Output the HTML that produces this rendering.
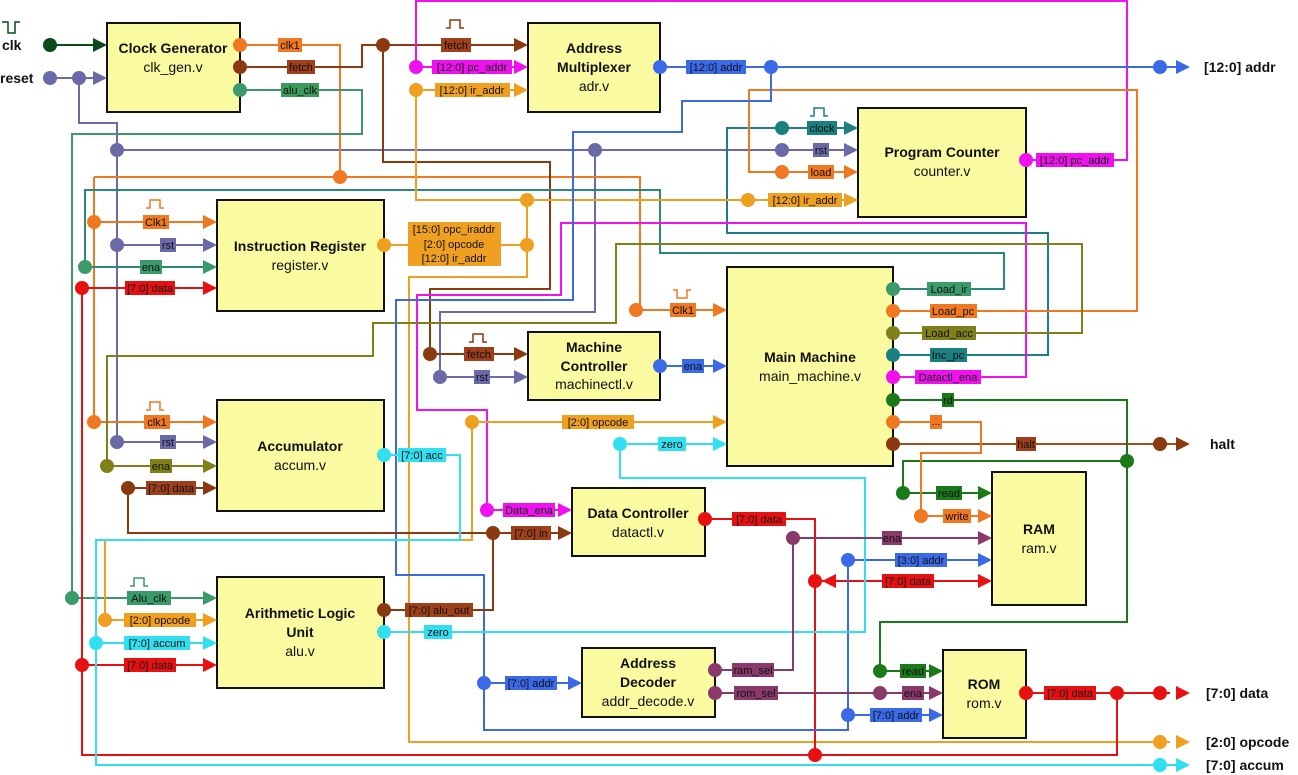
<!DOCTYPE html>
<html><head><meta charset="utf-8"><style>
html,body{margin:0;padding:0;background:#fff;}
svg{display:block;font-family:"Liberation Sans",sans-serif;}
.w{fill:none;stroke-width:2;}
.bx{fill:#fafaa0;stroke:#111;stroke-width:2;}
.t{font-size:14px;font-weight:bold;text-anchor:middle;fill:#111;}
.s{font-size:14px;text-anchor:middle;fill:#111;}
.l{font-size:11px;text-anchor:middle;fill:#111;}
.o{font-size:14px;font-weight:bold;fill:#111;}
</style></head><body>
<svg width="1298" height="775" viewBox="0 0 1298 775">
<g class="w">
<path d="M50 45H100" stroke="#0a4a1a"/>
<path d="M50 78H100 M79 78V123H117V442" stroke="#6a6aa8"/>
<path d="M117 150H850 M117 245H210 M117 442H210" stroke="#6a6aa8"/>
<path d="M595 150V312H440V377H520" stroke="#6a6aa8"/>
<path d="M240 45H340V177 M94 177H640V310H720 M94 177V422H210 M94 222H210" stroke="#f07820"/>
<path d="M240 67H362V45H520 M383 45V162H550V289H430V354H520" stroke="#8b3a0f"/>
<path d="M240 90H362V134H72V598H210" stroke="#3a9a6a"/>
<path d="M85 267V190H660V253H1004V289H893 M85 267H210" stroke="#2a8a7a"/>
<path d="M850 128H727V233H1048V355H893" stroke="#1a8080"/>
<path d="M1026 160H1127V1H416V67H520" stroke="#f010f0"/>
<path d="M893 377H1026V223H561V295H417V410H487V510H565" stroke="#f010f0"/>
<path d="M416 90H520 M416 90V200H850 M384 245H527V200 M527 245V277H409V742H1170 M472 422H720 M472 422V540H105V620H210" stroke="#f0a020"/>
<path d="M893 311H1137V90H749V172H850" stroke="#f07820"/>
<path d="M893 333H1082V244H616V323H373V356H107V466H210" stroke="#808018"/>
<path d="M82 288H210 M82 288V755H1117V693 M82 665H210 M705 519H815V755 M815 581H985 M1026 693H1170" stroke="#e81010"/>
<path d="M660 67H1180 M771 67V101H682V132H573V300H396V575H484V730H848V560H985 M848 715H935 M484 683H575 M660 366H720" stroke="#3a6ae8"/>
<path d="M128 488H210 M128 488V533H565 M384 610H493V533" stroke="#8b3a0f"/>
<path d="M893 444H1180" stroke="#a0501a"/>
<path d="M384 455H460V540H96V765H1180 M96 643H210 M620 444H720 M620 444V478H865V632H384" stroke="#30e0f0"/>
<path d="M893 400H1127V622H880V671H935 M1127 461H903V493H985" stroke="#1a7a1a"/>
<path d="M893 422H981V453H921V516H985" stroke="#f07820"/>
<path d="M793 538H985 M793 538V670H715 M715 693H935" stroke="#8a3a6a"/>
</g>
<rect class="bx" x="107" y="23" width="133" height="89"/>
<text class="t" x="173" y="53">Clock Generator</text><text class="s" x="173" y="72">clk_gen.v</text>
<rect class="bx" x="528" y="23" width="132" height="89"/>
<text class="t" x="594" y="53">Address</text><text class="t" x="594" y="72">Multiplexer</text><text class="s" x="594" y="91">adr.v</text>
<rect class="bx" x="858" y="108" width="168" height="109"/>
<text class="t" x="942" y="157">Program Counter</text><text class="s" x="942" y="176">counter.v</text>
<rect class="bx" x="217" y="200" width="167" height="111"/>
<text class="t" x="300" y="251">Instruction Register</text><text class="s" x="300" y="270">register.v</text>
<rect class="bx" x="727" y="267" width="166" height="199"/>
<text class="t" x="810" y="362">Main Machine</text><text class="s" x="810" y="381">main_machine.v</text>
<rect class="bx" x="528" y="332" width="132" height="68"/>
<text class="t" x="594" y="352">Machine</text><text class="t" x="594" y="371">Controller</text><text class="s" x="594" y="389">machinectl.v</text>
<rect class="bx" x="217" y="400" width="167" height="111"/>
<text class="t" x="300" y="451">Accumulator</text><text class="s" x="300" y="470">accum.v</text>
<rect class="bx" x="572" y="488" width="133" height="68"/>
<text class="t" x="638" y="518">Data Controller</text><text class="s" x="638" y="537">datactl.v</text>
<rect class="bx" x="992" y="472" width="94" height="133"/>
<text class="t" x="1039" y="534">RAM</text><text class="s" x="1039" y="553">ram.v</text>
<rect class="bx" x="217" y="577" width="167" height="111"/>
<text class="t" x="300" y="618">Arithmetic Logic</text><text class="t" x="300" y="637">Unit</text><text class="s" x="300" y="656">alu.v</text>
<rect class="bx" x="582" y="648" width="133" height="69"/>
<text class="t" x="648" y="668">Address</text><text class="t" x="648" y="687">Decoder</text><text class="s" x="648" y="706">addr_decode.v</text>
<rect class="bx" x="943" y="650" width="83" height="88"/>
<text class="t" x="984" y="689">ROM</text><text class="s" x="984" y="708">rom.v</text>
<g>
<polygon points="93,38 107,45 93,52" fill="#0a4a1a"/>
<polygon points="93,71 107,78 93,85" fill="#6a6aa8"/>
<polygon points="514,38 528,45 514,52" fill="#8b3a0f"/>
<polygon points="514,60 528,67 514,74" fill="#f010f0"/>
<polygon points="514,83 528,90 514,97" fill="#f0a020"/>
<polygon points="844,121 858,128 844,135" fill="#1a8080"/>
<polygon points="844,143 858,150 844,157" fill="#6a6aa8"/>
<polygon points="844,165 858,172 844,179" fill="#f07820"/>
<polygon points="844,193 858,200 844,207" fill="#f0a020"/>
<polygon points="203,215 217,222 203,229" fill="#f07820"/>
<polygon points="203,238 217,245 203,252" fill="#6a6aa8"/>
<polygon points="203,260 217,267 203,274" fill="#3a9a6a"/>
<polygon points="203,281 217,288 203,295" fill="#e81010"/>
<polygon points="713,303 727,310 713,317" fill="#f07820"/>
<polygon points="514,347 528,354 514,361" fill="#8b3a0f"/>
<polygon points="514,370 528,377 514,384" fill="#6a6aa8"/>
<polygon points="713,359 727,366 713,373" fill="#3a6ae8"/>
<polygon points="713,415 727,422 713,429" fill="#f0a020"/>
<polygon points="713,437 727,444 713,451" fill="#30e0f0"/>
<polygon points="203,415 217,422 203,429" fill="#f07820"/>
<polygon points="203,435 217,442 203,449" fill="#6a6aa8"/>
<polygon points="203,459 217,466 203,473" fill="#808018"/>
<polygon points="203,481 217,488 203,495" fill="#8b3a0f"/>
<polygon points="558,503 572,510 558,517" fill="#f010f0"/>
<polygon points="558,526 572,533 558,540" fill="#8b3a0f"/>
<polygon points="203,591 217,598 203,605" fill="#3a9a6a"/>
<polygon points="203,613 217,620 203,627" fill="#f0a020"/>
<polygon points="203,636 217,643 203,650" fill="#30e0f0"/>
<polygon points="203,658 217,665 203,672" fill="#e81010"/>
<polygon points="568,676 582,683 568,690" fill="#3a6ae8"/>
<polygon points="978,486 992,493 978,500" fill="#1a7a1a"/>
<polygon points="978,509 992,516 978,523" fill="#f07820"/>
<polygon points="978,531 992,538 978,545" fill="#8a3a6a"/>
<polygon points="978,553 992,560 978,567" fill="#3a6ae8"/>
<polygon points="978,574 992,581 978,588" fill="#e81010"/>
<polygon points="836,574 822,581 836,588" fill="#e81010"/>
<polygon points="929,664 943,671 929,678" fill="#1a7a1a"/>
<polygon points="929,686 943,693 929,700" fill="#8a3a6a"/>
<polygon points="929,708 943,715 929,722" fill="#3a6ae8"/>
<polygon points="1176,60 1190,67 1176,74" fill="#3a6ae8"/>
<polygon points="1176,437 1190,444 1176,451" fill="#8b3a0f"/>
<polygon points="1176,686 1190,693 1176,700" fill="#e81010"/>
<polygon points="1176,735 1190,742 1176,749" fill="#f0a020"/>
<polygon points="1176,758 1190,765 1176,772" fill="#30e0f0"/>
</g>
<g>
<circle cx="50" cy="45" r="7" fill="#0a4a1a"/>
<circle cx="50" cy="78" r="7" fill="#6a6aa8"/><circle cx="79" cy="78" r="7" fill="#6a6aa8"/>
<circle cx="240" cy="45" r="7" fill="#f07820"/><circle cx="240" cy="67" r="7" fill="#8b3a0f"/><circle cx="240" cy="90" r="7" fill="#3a9a6a"/>
<circle cx="383" cy="45" r="7" fill="#8b3a0f"/>
<circle cx="416" cy="67" r="7" fill="#f010f0"/><circle cx="416" cy="90" r="7" fill="#f0a020"/>
<circle cx="660" cy="67" r="7" fill="#3a6ae8"/><circle cx="771" cy="67" r="7" fill="#3a6ae8"/><circle cx="1160" cy="67" r="7" fill="#3a6ae8"/>
<circle cx="117" cy="150" r="7" fill="#6a6aa8"/><circle cx="595" cy="150" r="7" fill="#6a6aa8"/><circle cx="782" cy="150" r="7" fill="#6a6aa8"/>
<circle cx="782" cy="128" r="7" fill="#1a8080"/><circle cx="782" cy="172" r="7" fill="#f07820"/>
<circle cx="748" cy="200" r="7" fill="#f0a020"/><circle cx="527" cy="200" r="7" fill="#f0a020"/><circle cx="527" cy="245" r="7" fill="#f0a020"/><circle cx="384" cy="245" r="7" fill="#f0a020"/>
<circle cx="1026" cy="160" r="7" fill="#f010f0"/>
<circle cx="340" cy="177" r="7" fill="#f07820"/>
<circle cx="94" cy="222" r="7" fill="#f07820"/><circle cx="117" cy="245" r="7" fill="#6a6aa8"/><circle cx="85" cy="267" r="7" fill="#3a9a6a"/><circle cx="82" cy="288" r="7" fill="#e81010"/>
<circle cx="636" cy="310" r="7" fill="#f07820"/>
<circle cx="893" cy="289" r="7" fill="#3a9a6a"/><circle cx="893" cy="311" r="7" fill="#f07820"/><circle cx="893" cy="333" r="7" fill="#808018"/><circle cx="893" cy="355" r="7" fill="#1a8080"/><circle cx="893" cy="377" r="7" fill="#f010f0"/><circle cx="893" cy="400" r="7" fill="#1a7a1a"/><circle cx="893" cy="422" r="7" fill="#f07820"/><circle cx="893" cy="444" r="7" fill="#8b3a0f"/>
<circle cx="430" cy="354" r="7" fill="#8b3a0f"/><circle cx="440" cy="377" r="7" fill="#6a6aa8"/><circle cx="660" cy="366" r="7" fill="#3a6ae8"/>
<circle cx="94" cy="422" r="7" fill="#f07820"/><circle cx="117" cy="442" r="7" fill="#6a6aa8"/><circle cx="107" cy="466" r="7" fill="#808018"/><circle cx="128" cy="488" r="7" fill="#8b3a0f"/>
<circle cx="472" cy="422" r="7" fill="#f0a020"/><circle cx="620" cy="444" r="7" fill="#30e0f0"/>
<circle cx="384" cy="455" r="7" fill="#30e0f0"/>
<circle cx="1160" cy="444" r="7" fill="#8b3a0f"/><circle cx="1127" cy="461" r="7" fill="#1a7a1a"/>
<circle cx="903" cy="493" r="7" fill="#1a7a1a"/><circle cx="921" cy="516" r="7" fill="#f07820"/>
<circle cx="487" cy="510" r="7" fill="#f010f0"/><circle cx="493" cy="533" r="7" fill="#8b3a0f"/>
<circle cx="705" cy="519" r="7" fill="#e81010"/><circle cx="793" cy="538" r="7" fill="#8a3a6a"/><circle cx="848" cy="560" r="7" fill="#3a6ae8"/><circle cx="815" cy="581" r="7" fill="#e81010"/>
<circle cx="72" cy="598" r="7" fill="#3a9a6a"/><circle cx="105" cy="620" r="7" fill="#f0a020"/><circle cx="96" cy="643" r="7" fill="#30e0f0"/><circle cx="82" cy="665" r="7" fill="#e81010"/>
<circle cx="384" cy="610" r="7" fill="#8b3a0f"/><circle cx="384" cy="632" r="7" fill="#30e0f0"/>
<circle cx="484" cy="683" r="7" fill="#3a6ae8"/><circle cx="715" cy="670" r="7" fill="#8a3a6a"/><circle cx="715" cy="693" r="7" fill="#8a3a6a"/>
<circle cx="880" cy="671" r="7" fill="#1a7a1a"/><circle cx="880" cy="693" r="7" fill="#8a3a6a"/><circle cx="848" cy="715" r="7" fill="#3a6ae8"/>
<circle cx="1026" cy="693" r="7" fill="#e81010"/><circle cx="1117" cy="693" r="7" fill="#e81010"/><circle cx="1160" cy="693" r="7" fill="#e81010"/>
<circle cx="1160" cy="742" r="7" fill="#f0a020"/><circle cx="815" cy="755" r="7" fill="#e81010"/><circle cx="1160" cy="765" r="7" fill="#30e0f0"/>
</g>
<g>
<rect x="278" y="38" width="24" height="14" fill="#f07820"/><text class="l" x="290" y="49">clk1</text>
<rect x="287" y="60" width="28" height="14" fill="#a0401a"/><text class="l" x="301" y="71">fetch</text>
<rect x="281" y="83" width="38" height="14" fill="#3a9a5a"/><text class="l" x="300" y="94" fill="#8f8">alu_clk</text>
<rect x="441" y="38" width="30" height="14" fill="#a0401a"/><text class="l" x="456" y="49">fetch</text>
<rect x="432" y="60" width="80" height="14" fill="#f010f0"/><text class="l" x="472" y="71">[12:0] pc_addr</text>
<rect x="435" y="83" width="75" height="14" fill="#f0a020"/><text class="l" x="472" y="94">[12:0] ir_addr</text>
<rect x="686" y="60" width="60" height="14" fill="#3a6ae8"/><text class="l" x="716" y="71">[12:0] addr</text>
<rect x="807" y="121" width="30" height="14" fill="#1a8080"/><text class="l" x="822" y="132">clock</text>
<rect x="813" y="143" width="16" height="14" fill="#6a6aa8"/><text class="l" x="821" y="154">rst</text>
<rect x="808" y="165" width="26" height="14" fill="#f07820"/><text class="l" x="821" y="176">load</text>
<rect x="768" y="193" width="74" height="14" fill="#f0a020"/><text class="l" x="805" y="204">[12:0] ir_addr</text>
<rect x="1036" y="153" width="78" height="14" fill="#f010f0"/><text class="l" x="1075" y="164">[12:0] pc_addr</text>
<rect x="143" y="215" width="26" height="14" fill="#f07820"/><text class="l" x="156" y="226">Clk1</text>
<rect x="160" y="238" width="16" height="14" fill="#6a6aa8"/><text class="l" x="168" y="249">rst</text>
<rect x="140" y="260" width="22" height="14" fill="#3a9a6a"/><text class="l" x="151" y="271">ena</text>
<rect x="125" y="281" width="50" height="14" fill="#e81010"/><text class="l" x="150" y="292">[7:0] data</text>
<rect x="408" y="222" width="93" height="44" fill="#f0a020"/>
<text class="l" x="454" y="233">[15:0] opc_iraddr</text><text class="l" x="454" y="248">[2:0] opcode</text><text class="l" x="454" y="262">[12:0] ir_addr</text>
<rect x="670" y="303" width="26" height="14" fill="#f07820"/><text class="l" x="683" y="314">Clk1</text>
<rect x="464" y="347" width="30" height="14" fill="#a0401a"/><text class="l" x="479" y="358">fetch</text>
<rect x="474" y="370" width="16" height="14" fill="#6a6aa8"/><text class="l" x="482" y="381">rst</text>
<rect x="682" y="359" width="22" height="14" fill="#3a6ae8"/><text class="l" x="693" y="370">ena</text>
<rect x="927" y="282" width="44" height="14" fill="#3a9a6a"/><text class="l" x="949" y="293">Load_ir</text>
<rect x="930" y="304" width="47" height="14" fill="#f07820"/><text class="l" x="953" y="315">Load_pc</text>
<rect x="922" y="326" width="54" height="14" fill="#808018"/><text class="l" x="949" y="337">Load_acc</text>
<rect x="930" y="348" width="37" height="14" fill="#1a8080"/><text class="l" x="948" y="359">Inc_pc</text>
<rect x="915" y="370" width="66" height="14" fill="#f010f0"/><text class="l" x="948" y="381">Datactl_ena</text>
<rect x="942" y="393" width="12" height="14" fill="#1a7a1a"/><text class="l" x="948" y="404">rd</text>
<rect x="930" y="415" width="12" height="14" fill="#f07820"/><text class="l" x="936" y="425">...</text>
<rect x="1016" y="437" width="20" height="14" fill="#a0401a"/><text class="l" x="1026" y="448">halt</text>
<rect x="562" y="415" width="72" height="14" fill="#f0a020"/><text class="l" x="598" y="426">[2:0] opcode</text>
<rect x="658" y="437" width="28" height="14" fill="#30e0f0"/><text class="l" x="672" y="448">zero</text>
<rect x="144" y="415" width="26" height="14" fill="#f07820"/><text class="l" x="157" y="426">clk1</text>
<rect x="160" y="435" width="16" height="14" fill="#6a6aa8"/><text class="l" x="168" y="446">rst</text>
<rect x="150" y="459" width="22" height="14" fill="#808018"/><text class="l" x="161" y="470" fill="#ee6">ena</text>
<rect x="146" y="481" width="50" height="14" fill="#a0401a"/><text class="l" x="171" y="492">[7:0] data</text>
<rect x="398" y="448" width="48" height="14" fill="#30e0f0"/><text class="l" x="422" y="459">[7:0] acc</text>
<rect x="503" y="503" width="52" height="14" fill="#f010f0"/><text class="l" x="529" y="514">Data_ena</text>
<rect x="511" y="526" width="40" height="14" fill="#a0401a"/><text class="l" x="531" y="537">[7:0] in</text>
<rect x="732" y="512" width="54" height="14" fill="#e81010"/><text class="l" x="759" y="523">[7:0] data</text>
<rect x="882" y="531" width="20" height="14" fill="#8a3a6a"/><text class="l" x="892" y="542">ena</text>
<rect x="895" y="553" width="52" height="14" fill="#3a6ae8"/><text class="l" x="921" y="564">[3:0] addr</text>
<rect x="882" y="574" width="52" height="14" fill="#e81010"/><text class="l" x="908" y="585">[7:0] data</text>
<rect x="936" y="486" width="26" height="14" fill="#1a7a1a"/><text class="l" x="949" y="497">read</text>
<rect x="943" y="509" width="28" height="14" fill="#f07820"/><text class="l" x="957" y="520">write</text>
<rect x="127" y="591" width="44" height="14" fill="#3a9a6a"/><text class="l" x="149" y="602">Alu_clk</text>
<rect x="124" y="613" width="72" height="14" fill="#f0a020"/><text class="l" x="160" y="624">[2:0] opcode</text>
<rect x="124" y="636" width="66" height="14" fill="#30e0f0"/><text class="l" x="157" y="647">[7:0] accum</text>
<rect x="124" y="658" width="52" height="14" fill="#e81010"/><text class="l" x="150" y="669">[7:0] data</text>
<rect x="405" y="603" width="68" height="14" fill="#a0401a"/><text class="l" x="439" y="614">[7:0] alu_out</text>
<rect x="424" y="625" width="28" height="14" fill="#30e0f0"/><text class="l" x="438" y="636">zero</text>
<rect x="505" y="676" width="52" height="14" fill="#3a6ae8"/><text class="l" x="531" y="687">[7:0] addr</text>
<rect x="732" y="663" width="42" height="14" fill="#8a3a6a"/><text class="l" x="753" y="674">ram_sel</text>
<rect x="734" y="686" width="44" height="14" fill="#8a3a6a"/><text class="l" x="756" y="697">rom_sel</text>
<rect x="900" y="664" width="26" height="14" fill="#1a7a1a"/><text class="l" x="913" y="675">read</text>
<rect x="902" y="686" width="22" height="14" fill="#8a3a6a"/><text class="l" x="913" y="697">ena</text>
<rect x="870" y="708" width="52" height="14" fill="#3a6ae8"/><text class="l" x="896" y="719">[7:0] addr</text>
<rect x="1044" y="686" width="52" height="14" fill="#e81010"/><text class="l" x="1070" y="697">[7:0] data</text>
</g>
<g fill="none" stroke-width="1.5">
<path d="M2 22H8V33H15V22H20" stroke="#0a4a1a"/>
<path d="M446 28H450V20H460V28H464" stroke="#8b3a0f"/>
<path d="M810 116H814V108H824V116H828" stroke="#1a8080"/>
<path d="M146 208H150V200H160V208H164" stroke="#f07820"/>
<path d="M673 290H677V298H687V290H691" stroke="#f07820"/>
<path d="M469 342H473V334H483V342H487" stroke="#8b3a0f"/>
<path d="M146 410H150V402H160V410H164" stroke="#f07820"/>
<path d="M130 586H134V578H144V586H148" stroke="#3a9a6a"/>
</g>
<text class="o" x="2" y="50">clk</text>
<text class="o" x="0" y="83">reset</text>
<text class="o" x="1204" y="72">[12:0] addr</text>
<text class="o" x="1210" y="449">halt</text>
<text class="o" x="1206" y="698">[7:0] data</text>
<text class="o" x="1206" y="747">[2:0] opcode</text>
<text class="o" x="1206" y="770">[7:0] accum</text>
</svg>
</body></html>
